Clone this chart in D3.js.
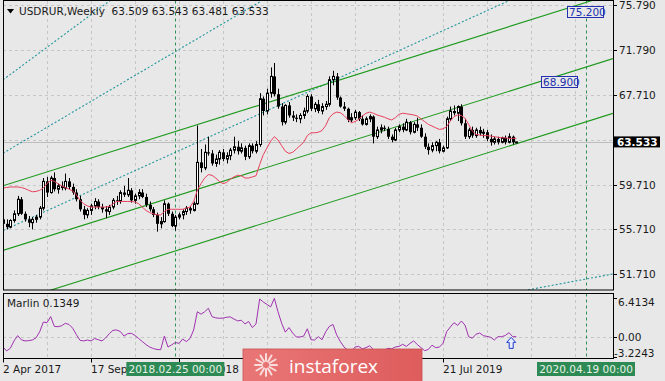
<!DOCTYPE html>
<html><head><meta charset="utf-8">
<script src="https://cdn.jsdelivr.net/npm/d3@7"></script>
<style>
html,body{margin:0;padding:0;background:#e8e8e8;}
svg{display:block;font-family:"DejaVu Sans",sans-serif;}
</style></head><body>
<svg id="c" width="665" height="381"></svg>
<script>
// ---------------- DATA ----------------
const symbolTitle = "USDRUR,Weekly  63.509 63.543 63.481 63.533";
const openP = [56.6,56.2,55.9,56.5,57.1,58.4,57.1,56.6,56.3,56.6,56.8,57.6,60.0,59.0,60.3,59.3,59.6,59.4,60.0,59.5,
59.0,58.4,57.5,57.0,57.4,57.8,58.2,57.7,57.5,57.3,57.7,58.3,58.2,59.0,58.8,59.2,58.3,58.7,59.0,58.6,
57.9,57.5,57.0,56.2,56.4,58.0,57.1,56.0,56.8,57.0,57.3,57.6,57.4,58.0,61.7,61.2,62.6,62.5,61.6,62.0,
62.6,62.0,62.3,62.8,63.1,62.7,63.0,62.2,63.2,62.7,63.3,67.4,66.3,67.9,69.4,67.8,66.7,65.3,66.8,65.9,
65.7,65.6,65.9,66.3,67.6,66.5,66.9,66.3,66.7,66.9,69.1,69.4,67.5,66.7,66.5,65.5,65.7,66.2,65.6,65.1,
65.6,65.8,64.0,64.6,64.8,64.7,64.0,63.7,64.6,64.9,64.6,65.3,64.4,65.1,64.8,64.0,63.1,62.8,63.2,63.5,
62.7,63.0,65.6,66.3,66.1,66.7,65.2,64.0,64.6,64.1,64.6,64.3,64.4,63.8,63.5,63.8,63.5,63.9,63.5,64.0,63.509];
const highP = [57.1,56.6,56.6,57.4,58.7,58.6,57.3,56.9,56.8,57.0,57.8,60.3,60.4,60.5,60.8,59.8,60.0,60.7,60.3,59.8,
59.3,58.7,57.8,57.6,58.0,58.5,58.4,58.0,57.8,57.9,58.5,58.7,59.2,59.6,60.3,59.4,58.9,59.3,59.3,58.9,
58.2,57.7,57.2,56.8,58.3,58.1,57.3,57.0,57.2,57.5,57.8,57.8,58.2,65.0,62.9,63.3,64.0,62.8,62.4,62.8,
62.9,62.6,63.0,64.0,63.6,63.4,63.2,63.4,63.4,63.6,67.9,67.6,68.3,70.2,70.6,68.3,67.0,66.9,67.1,66.3,
66.0,66.1,66.6,67.8,67.8,67.1,67.3,67.0,67.2,69.4,69.9,69.7,67.6,67.1,66.6,66.1,66.4,66.3,65.9,65.8,
66.0,65.9,64.9,65.1,65.0,64.9,64.2,64.8,65.1,65.2,65.6,65.4,65.3,65.7,65.1,64.3,63.4,63.5,63.6,63.8,
63.2,65.8,66.7,66.8,66.8,66.9,65.6,64.8,64.9,64.8,64.9,64.7,64.6,64.2,64.0,64.0,64.0,64.1,64.3,64.1,63.543];
const lowP = [55.6,55.7,55.8,56.3,56.9,57.0,56.4,55.9,55.7,56.3,56.6,57.4,58.6,58.9,59.1,58.9,59.2,59.2,59.3,58.8,
58.2,57.3,56.6,56.7,57.0,57.5,57.5,57.2,56.7,57.0,57.5,57.9,58.0,58.6,58.6,58.1,58.0,58.4,58.5,57.7,
57.3,56.8,55.5,55.8,56.3,56.9,55.9,55.6,56.6,56.6,57.0,57.1,57.3,57.9,60.8,61.0,62.3,61.4,61.3,61.5,
61.8,61.6,61.9,62.5,62.4,62.5,61.9,62.0,62.5,62.5,63.1,65.9,66.0,67.5,67.6,66.5,65.0,65.1,65.7,65.4,
65.3,65.2,65.6,66.1,66.3,66.2,66.1,66.0,66.4,66.7,68.6,67.3,66.6,66.3,65.3,65.3,65.5,65.4,65.0,65.0,
65.3,63.4,63.8,64.3,64.5,63.8,63.5,63.6,64.4,64.4,64.5,64.2,64.3,64.5,63.9,62.9,62.4,62.6,62.7,62.5,
62.6,62.9,65.4,65.9,65.4,65.0,63.8,63.8,63.9,63.9,64.1,63.9,63.6,63.2,63.3,63.3,63.4,63.3,63.4,63.3,63.481];
const closeP = [56.2,55.9,56.5,57.1,58.4,57.1,56.6,56.3,56.6,56.8,57.6,60.0,59.0,60.3,59.3,59.6,59.4,60.0,59.5,59.0,
58.4,57.5,57.0,57.4,57.8,58.2,57.7,57.5,57.3,57.7,58.3,58.2,59.0,58.8,59.2,58.3,58.7,59.0,58.6,57.9,
57.5,57.0,56.2,56.4,58.0,57.1,56.0,56.8,57.0,57.3,57.6,57.4,58.0,61.7,61.2,62.6,62.5,61.6,62.0,62.6,
62.0,62.3,62.8,63.1,62.7,63.0,62.2,63.2,62.7,63.3,67.4,66.3,67.9,69.4,67.8,66.7,65.3,66.8,65.9,65.7,
65.6,65.9,66.3,67.6,66.5,66.9,66.3,66.7,66.9,69.1,69.4,67.5,66.7,66.5,65.5,65.7,66.2,65.6,65.1,65.6,
65.8,64.0,64.6,64.8,64.7,64.0,63.7,64.6,64.9,64.6,65.3,64.4,65.1,64.8,64.0,63.1,62.8,63.2,63.5,62.7,
63.0,65.6,66.3,66.1,66.7,65.2,64.0,64.6,64.1,64.6,64.3,64.4,63.8,63.5,63.8,63.5,63.9,63.5,64.0,63.5,63.533];
const maValues = [59.4,59.45,59.5,59.5,59.5,59.45,59.35,59.2,59.07,59.1,59.2,59.4,59.8,60.1,60.0,59.8,59.6,59.45,59.3,59.15,
58.8,58.3,58.0,57.8,57.7,57.7,57.7,57.7,57.7,57.75,58.0,58.2,58.2,58.2,58.2,58.2,58.15,58.0,57.7,57.4,
57.2,57.1,57.0,57.0,57.3,57.5,57.5,57.5,57.5,57.5,57.6,57.7,58.2,59.2,59.8,60.3,60.6,60.55,60.3,60.0,
59.8,59.9,60.2,60.4,60.55,60.5,60.3,60.3,60.4,60.5,61.5,62.4,63.0,63.6,64.0,63.7,63.2,62.7,62.5,62.6,
62.9,63.2,63.5,64.1,64.35,64.35,64.4,64.55,65.0,65.7,66.05,66.2,66.15,65.9,65.55,65.25,65.35,65.55,65.85,66.1,
66.2,66.1,65.95,65.85,65.75,65.6,65.5,65.7,66.0,66.1,66.05,66.0,65.95,65.85,65.6,65.35,65.1,64.95,64.8,64.65,
64.7,64.9,65.4,65.8,65.95,65.9,65.65,65.1,64.5,64.2,64.15,64.1,64.1,64.05,64.0,63.95,63.9,63.9,63.85,63.85,63.85];
const marlinValues = [-1.6,-2.25,-1.8,-0.6,0.27,-0.4,-0.6,-0.55,-0.45,-0.1,0.9,2.5,2.4,3.4,1.8,1.74,1.9,2.3,2.1,1.5,
0.45,-0.5,-0.6,-0.45,-0.6,-0.2,-0.4,-0.6,-0.1,0.6,1.15,1.2,0.95,0.2,0.6,0.66,0.3,-0.2,-0.7,-1.2,
-1.6,-1.85,-2.0,-2.05,0.2,-1.6,-1.25,-0.85,-1.0,-0.3,-0.7,-0.2,1.2,4.2,3.8,4.2,4.77,3.4,3.2,3.13,
3.15,3.3,3.35,3.0,2.7,2.8,2.2,2.6,1.6,2.2,6.3,5.8,5.4,5.0,6.41,4.2,2.3,0.85,1.6,0.7,
0.05,0.05,0.2,1.4,-0.4,-0.45,0.1,-0.4,0.9,1.8,2.1,0.4,-0.7,-1.6,-2.1,-2.4,-1.6,-1.5,-1.9,-1.7,
-1.4,-2.0,-2.2,-2.0,-2.1,-1.8,-1.9,-1.6,-1.5,-1.15,-1.5,-1.0,-0.6,-1.2,-1.7,-2.2,-2.0,-1.3,-1.7,-1.6,
-1.0,0.92,1.7,2.4,1.95,2.68,2.0,0.1,-0.15,0.5,0.7,0.27,0.15,0.0,-0.44,0.1,0.1,0.3,0.76,0.1,0.1];
const priceTicks = [75.79, 71.79, 67.71, 63.71, 59.71, 55.71, 51.71];
const priceTickLabels = ["75.790","71.790","67.710","63.710","59.710","55.710","51.710"];
const lastPrice = 63.533;
const marlinTicks = [6.4134, 0, -3.2243];
const marlinTickLabels = ["6.4134","0.00","-3.2243"];
const marlinRange = [-3.2243, 6.4134];
const timeTickIdx = [0, 24, 48, 120];
const timeTickLabels = ["2 Apr 2017","17 Sep 2017","4 Mar 2018","21 Jul 2019"];
const gridIdx = d3.range(12, 166, 12);
// channel lines [idx0, price0, idx1, price1]
const channelLines = [[0,59.61,166.35,76.78],[0,53.82,166.35,70.99],[0,48.92,166.35,66.09]];
const fanLines = [[0,69.09,40,78.81],[0,62.52,80,78.0],[0,55.59,150,77.97],[140,50.09,166.35,51.71]];
const levelLabels = [{idx:153.7, price:75.2, text:"75.200"},{idx:146.6, price:68.9, text:"68.900"}];
const markerLines = [{idx:47, text:"2018.02.25 00:00"},{idx:159, text:"2020.04.19 00:00"}];
const arrowMarker = {idx:138.6, value:-1.0};
const marlinName = "Marlin 0.1349";

// ---------------- LAYOUT ----------------
const svg = d3.select('#c');
const L=3, R=613, MT=0.5, MB=290, ST=293.5, SB=358.5;
const x = d3.scaleLinear().domain([0, 610/(44/12)]).range([L, R]);
const y = d3.scaleLinear().domain([50.275, 76.103]).range([MB, 1.5]);
const ys = d3.scaleLinear().domain(marlinRange).range([356.9, 298.3]);
const px = i => Math.round(x(i)) + 0.5;

const defs = svg.append('defs');
defs.append('clipPath').attr('id','cm').append('rect').attr('x',L).attr('y',MT).attr('width',R-L).attr('height',MB-MT);
defs.append('clipPath').attr('id','cs').append('rect').attr('x',L).attr('y',ST).attr('width',R-L).attr('height',SB-ST);
const grad = defs.append('linearGradient').attr('id','wm').attr('x1',0).attr('x2',1).attr('y1',0).attr('y2',0);
grad.append('stop').attr('offset','0%').attr('stop-color','#e97676');
grad.append('stop').attr('offset','100%').attr('stop-color','#de5c5c');

svg.append('rect').attr('width',665).attr('height',381).attr('fill','#e8e8e8');

const gm = svg.append('g').attr('clip-path','url(#cm)');
const gs = svg.append('g').attr('clip-path','url(#cs)');

// grid
const gridStyle = s => s.attr('stroke','#c6c6c6').attr('stroke-width',1).attr('stroke-dasharray','3,3').attr('shape-rendering','crispEdges');
gm.selectAll('line.vg').data(gridIdx).join('line').attr('class','vg')
  .attr('x1',d=>px(d)).attr('x2',d=>px(d)).attr('y1',MT).attr('y2',MB).call(gridStyle);
gm.selectAll('line.hg').data(priceTicks).join('line').attr('class','hg')
  .attr('x1',L).attr('x2',R).attr('y1',d=>Math.round(y(d))+0.5).attr('y2',d=>Math.round(y(d))+0.5).call(gridStyle);
gs.selectAll('line.vg').data(gridIdx).join('line').attr('class','vg')
  .attr('x1',d=>px(d)).attr('x2',d=>px(d)).attr('y1',ST).attr('y2',SB).call(gridStyle);
gs.append('line').attr('x1',L).attr('x2',R).attr('y1',Math.round(ys(0))+0.5).attr('y2',Math.round(ys(0))+0.5).call(gridStyle);

// bid line
gm.append('line').attr('x1',L).attr('x2',R).attr('y1',Math.round(y(lastPrice))+0.5).attr('y2',Math.round(y(lastPrice))+0.5)
  .attr('stroke','#bdbdbd').attr('stroke-width',1).attr('shape-rendering','crispEdges');

// fan lines (teal dotted)
gm.selectAll('line.fan').data(fanLines).join('line').attr('class','fan')
  .attr('x1',d=>x(d[0])).attr('y1',d=>y(d[1])).attr('x2',d=>x(d[2])).attr('y2',d=>y(d[3]))
  .attr('stroke','#23969e').attr('stroke-width',1.1).attr('stroke-dasharray','2,2');

// marker vertical lines
gm.selectAll('line.mk').data(markerLines).join('line').attr('class','mk')
  .attr('x1',d=>px(d.idx)).attr('x2',d=>px(d.idx)).attr('y1',MT).attr('y2',MB)
  .attr('stroke','#2f8f55').attr('stroke-width',1).attr('stroke-dasharray','3,3');
gs.selectAll('line.mk').data(markerLines).join('line').attr('class','mk')
  .attr('x1',d=>px(d.idx)).attr('x2',d=>px(d.idx)).attr('y1',ST).attr('y2',SB)
  .attr('stroke','#2f8f55').attr('stroke-width',1).attr('stroke-dasharray','3,3');

// channel lines
gm.selectAll('line.ch').data(channelLines).join('line').attr('class','ch')
  .attr('x1',d=>x(d[0])).attr('y1',d=>y(d[1])).attr('x2',d=>x(d[2])).attr('y2',d=>y(d[3]))
  .attr('stroke','#1f9a1f').attr('stroke-width',1.1);

// candles
const idx = d3.range(closeP.length);
gm.selectAll('line.wick').data(idx).join('line').attr('class','wick')
  .attr('x1',px).attr('x2',px).attr('y1',i=>y(highP[i])).attr('y2',i=>y(lowP[i]))
  .attr('stroke','#000').attr('stroke-width',1);
gm.selectAll('rect.body').data(idx).join('rect').attr('class','body')
  .each(function(i){
    const bull = closeP[i] >= openP[i];
    const top = y(Math.max(openP[i],closeP[i])), bot = y(Math.min(openP[i],closeP[i]));
    const r = d3.select(this);
    if (bull) {
      r.attr('x',px(i)-1).attr('width',2).attr('y',top).attr('height',Math.max(1,bot-top))
       .attr('fill','#fff').attr('stroke','#000').attr('stroke-width',1);
    } else {
      r.attr('x',px(i)-1.5).attr('width',3).attr('y',top).attr('height',Math.max(1,bot-top)).attr('fill','#000');
    }
  });

// moving average
gm.append('path').datum(idx).attr('fill','none').attr('stroke','#e8405c').attr('stroke-width',1)
  .attr('d', d3.line().x(i=>x(i)).y(i=>y(maValues[i])));

// marlin
gs.append('path').datum(idx).attr('fill','none').attr('stroke','#a032b0').attr('stroke-width',1)
  .attr('d', d3.line().x(i=>x(i)).y(i=>ys(marlinValues[i])));

// arrow marker
const ax = x(arrowMarker.idx), ay = ys(arrowMarker.value);
gs.append('path').attr('d',`M${ax},${ay-6} L${ax+4.5},${ay-1} L${ax+2},${ay-1} L${ax+2},${ay+5} L${ax-2},${ay+5} L${ax-2},${ay-1} L${ax-4.5},${ay-1} Z`)
  .attr('fill','#e8ecff').attr('stroke','#1a3ccc').attr('stroke-width',1);

// level labels
levelLabels.forEach(d=>{
  const bx = x(d.idx), by = y(d.price);
  svg.append('rect').attr('x',Math.round(bx)+0.5).attr('y',Math.round(by-5.5)+0.5).attr('width',36).attr('height',11)
    .attr('fill','#e8e8e8').attr('stroke','#2230b0').attr('stroke-width',1);
  svg.append('text').attr('x',bx+2.5).attr('y',by+4).attr('font-size',10.5).attr('fill','#2230b0').text(d.text);
});

// frames
svg.append('rect').attr('x',L+0.5).attr('y',MT).attr('width',R-L).attr('height',MB-MT).attr('fill','none').attr('stroke','#000').attr('stroke-width',1);
svg.append('rect').attr('x',L+0.5).attr('y',ST).attr('width',R-L).attr('height',SB-ST).attr('fill','none').attr('stroke','#000').attr('stroke-width',1);

// price axis
priceTicks.forEach((v,k)=>{
  const yy = Math.round(y(v))+0.5;
  svg.append('line').attr('x1',R+0.5).attr('x2',R+4).attr('y1',yy).attr('y2',yy).attr('stroke','#000');
  if (Math.abs(v-lastPrice) > 0.5)
    svg.append('text').attr('x',619).attr('y',yy+3.8).attr('font-size',10.5).attr('fill','#1a1a1a').text(priceTickLabels[k]);
});
const ly = y(lastPrice);
svg.append('rect').attr('x',614).attr('y',ly-5.5).attr('width',46).attr('height',11).attr('fill','#000');
svg.append('text').attr('x',617).attr('y',ly+4).attr('font-size',10.5).attr('font-weight','bold').attr('fill','#fff').text(lastPrice.toFixed(3));

// marlin axis
marlinTicks.forEach((v,k)=>{
  const yy = Math.max(302, Math.min(353, ys(v)));
  svg.append('line').attr('x1',R+0.5).attr('x2',R+4).attr('y1',Math.round(ys(v))+0.5).attr('y2',Math.round(ys(v))+0.5).attr('stroke','#000');
  svg.append('text').attr('x', v<0 ? 614 : 618).attr('y',yy+4).attr('font-size',10.5).attr('fill','#1a1a1a').text(marlinTickLabels[k]);
});

// time axis
timeTickIdx.forEach((t,k)=>{
  svg.append('line').attr('x1',px(t)).attr('x2',px(t)).attr('y1',SB).attr('y2',SB+4).attr('stroke','#000');
  svg.append('text').attr('x',x(t)).attr('y',373).attr('font-size',10.5).attr('fill','#1a1a1a').text(timeTickLabels[k]);
});
markerLines.forEach(d=>{
  const cx = x(d.idx);
  svg.append('rect').attr('x',cx-49).attr('y',362).attr('width',98).attr('height',14).attr('fill','#2e8a55');
  svg.append('text').attr('x',cx).attr('y',373).attr('text-anchor','middle').attr('font-size',10.5).attr('fill','#e6f2e6').text(d.text);
});

// title
svg.append('path').attr('d','M7,9 L14,9 L10.5,13.5 Z').attr('fill','#000');
svg.append('text').attr('x',19).attr('y',15).attr('font-size',10.5).attr('fill','#1a1a1a').style('white-space','pre').text(symbolTitle);
svg.append('text').attr('x',7).attr('y',307).attr('font-size',10.5).attr('fill','#1a1a1a').text(marlinName);

// watermark
const wm = svg.append('g');
wm.append('rect').attr('x',243).attr('y',349).attr('width',179).attr('height',34).attr('fill','url(#wm)').attr('stroke','#c85050').attr('stroke-width',0.8);
const lc = [266, 365];
d3.range(12).forEach(k=>{
  const a = k*Math.PI/6;
  wm.append('line').attr('x1',lc[0]+Math.cos(a)*4).attr('y1',lc[1]+Math.sin(a)*4)
    .attr('x2',lc[0]+Math.cos(a)*11).attr('y2',lc[1]+Math.sin(a)*11)
    .attr('stroke','#fff').attr('stroke-opacity',0.75).attr('stroke-width',2).attr('stroke-linecap','round');
});
wm.append('text').attr('x',289).attr('y',373).attr('font-family','"Open Sans",sans-serif').attr('font-size',19).attr('fill','#fff').text('instaforex');
</script></body></html>
